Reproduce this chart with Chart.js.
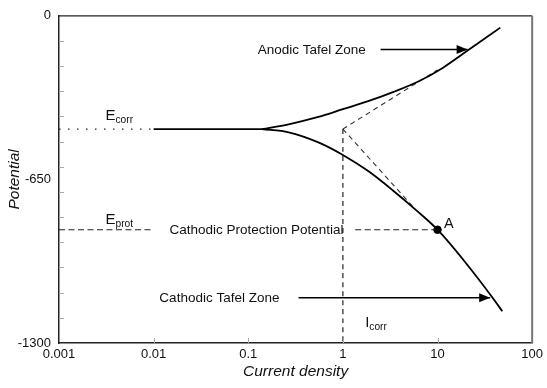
<!DOCTYPE html>
<html>
<head>
<meta charset="utf-8">
<script src="https://cdn.jsdelivr.net/npm/chart.js"></script>
<style>
    html, body { margin: 0; padding: 0; background: #fff; }
    #chart-box { width: 547px; height: 388px; }
</style>
</head>
<body>
<div id="chart-box">
    <canvas id="polarizacion-chart"></canvas>
</div>

<script>
    // Curvas de polarizacion (densidad de corriente, potencial)
    var anodicX = [0.14, 0.267, 0.551, 1.0, 1.85, 3.38, 6.19, 11.34, 20.8, 46.1];
    var anodicE = [-450, -431, -402, -371, -339, -303, -262, -207, -138, -47];
    var cathodicX = [0.14, 0.267, 0.551, 1.0, 1.85, 3.38, 6.19, 10, 20.8, 38.0, 48.4];
    var cathodicE = [-450, -463, -503, -553, -617, -694, -778, -850, -991, -1119, -1174];

    // Potenciales de referencia
    var ecorr = -450;
    var eprot = -850;
    var icorr = 1;
    var pointA = [10, -850];

    // Extrapolaciones de Tafel (rectas discontinuas)
    var anodicTangentX = [1, 10];
    var anodicTangentE = [-450, -215];
    var cathodicTangentX = [1, 5.8];
    var cathodicTangentE = [-450, -768];

    // Flechas de las zonas de Tafel
    var anodicArrowX = [2.5, 20.8];
    var anodicArrowE = -134;
    var cathodicArrowX = [0.34, 36];
    var cathodicArrowE = -1120;

    // Ejes
    var xTicks = [0.001, 0.01, 0.1, 1, 10, 100];
    var xTickLabels = ['0.001', '0.01', '0.1', '1', '10', '100'];
    var yTicks = [-1300, -650, 0];
    var yMinorTicks = [-1200, -1100, -1000, -900, -800, -700, -600, -500, -400, -300, -200, -100];

    // Textos: [texto, subindice, x, potencial, tamano]
    var labels = [
        ['E', 'corr', 0.0031, -414, 15],
        ['E', 'prot', 0.0031, -827, 15],
        ['Cathodic Protection Potential', '', 0.0147, -867, 13.5],
        ['Anodic Tafel Zone', '', 0.126, -150, 13.5],
        ['Cathodic Tafel Zone', '', 0.0115, -1138, 13.5],
        ['I', 'corr', 1.72, -1237, 15],
        ['A', '', 11.7, -843, 14.5]
    ];

    var FONT = '"Liberation Sans", Arial, sans-serif';

    function toPoints(xs, ys) {
        return xs.map(function (x, i) {
            return { x: x, y: Array.isArray(ys) ? ys[i] : ys };
        });
    }

    function lineSet(data, color, width, dash) {
        return {
            data: data,
            showLine: true,
            borderColor: color,
            borderWidth: width,
            borderDash: dash || [],
            pointRadius: 0,
            fill: false,
            cubicInterpolationMode: 'monotone'
        };
    }

    var datasets = [
        lineSet(toPoints(anodicX, anodicE), '#000', 1.8),
        lineSet(toPoints(cathodicX, cathodicE), '#000', 1.8),
        lineSet(toPoints([0.01, anodicX[0]], ecorr), '#000', 1.8),
        lineSet(toPoints([0.001, 0.01], ecorr), '#222', 1.3, [1.5, 7.5]),
        lineSet(toPoints([0.001, 0.01], eprot), '#222', 1.2, [6, 3.5]),
        lineSet(toPoints([1.35, pointA[0]], eprot), '#222', 1.2, [6, 3.5]),
        lineSet(toPoints([icorr, icorr], [ecorr, -1300]), '#222', 1.2, [5, 4]),
        lineSet(toPoints(anodicTangentX, anodicTangentE), '#333', 1.1, [5, 4]),
        lineSet(toPoints(cathodicTangentX, cathodicTangentE), '#333', 1.1, [5, 4]),
        lineSet(toPoints(anodicArrowX, anodicArrowE), '#000', 1.5),
        lineSet(toPoints(cathodicArrowX, cathodicArrowE), '#000', 1.5),
        {
            data: [{ x: pointA[0], y: pointA[1] }],
            pointRadius: 3.8,
            backgroundColor: '#000',
            borderColor: '#000',
            showLine: false
        }
    ];
    var arrowSets = [9, 10];

    // Marcas interiores, bordes, puntas de flecha y textos
    var extrasPlugin = {
        id: 'extras',
        afterDatasetsDraw: function (chart) {
            var ctx = chart.ctx;
            var xs = chart.scales.x;
            var ys = chart.scales.y;
            var area = chart.chartArea;
            ctx.save();

            // marcas menores hacia dentro
            ctx.strokeStyle = '#aaa';
            ctx.lineWidth = 1;
            yMinorTicks.forEach(function (v) {
                var py = Math.round(ys.getPixelForValue(v)) + 0.5;
                ctx.beginPath();
                ctx.moveTo(area.left, py);
                ctx.lineTo(area.left + 5, py);
                ctx.stroke();
            });
            xTicks.slice(1, -1).forEach(function (v) {
                var px = Math.round(xs.getPixelForValue(v)) + 0.5;
                ctx.beginPath();
                ctx.moveTo(px, area.bottom);
                ctx.lineTo(px, area.bottom - 5);
                ctx.stroke();
            });

            // bordes superior y derecho
            ctx.strokeStyle = '#222';
            ctx.lineWidth = 1.3;
            ctx.beginPath();
            ctx.moveTo(area.left, area.top);
            ctx.lineTo(area.right, area.top);
            ctx.stroke();
            ctx.strokeStyle = '#777';
            ctx.lineWidth = 2;
            ctx.beginPath();
            ctx.moveTo(area.right, area.top);
            ctx.lineTo(area.right, area.bottom);
            ctx.stroke();

            // puntas de flecha
            ctx.fillStyle = '#000';
            arrowSets.forEach(function (i) {
                var pts = chart.getDatasetMeta(i).data;
                var tip = pts[pts.length - 1];
                ctx.beginPath();
                ctx.moveTo(tip.x, tip.y);
                ctx.lineTo(tip.x - 11, tip.y - 4.5);
                ctx.lineTo(tip.x - 11, tip.y + 4.5);
                ctx.closePath();
                ctx.fill();
            });

            // textos
            ctx.fillStyle = '#111';
            ctx.textBaseline = 'alphabetic';
            ctx.textAlign = 'left';
            labels.forEach(function (l) {
                var px = xs.getPixelForValue(l[2]);
                var py = ys.getPixelForValue(l[3]);
                ctx.font = l[4] + 'px ' + FONT;
                ctx.fillText(l[0], px, py);
                if (l[1]) {
                    var w = ctx.measureText(l[0]).width;
                    ctx.font = (l[4] * 0.68) + 'px ' + FONT;
                    ctx.fillText(l[1], px + w, py + 3);
                }
            });
            ctx.restore();
        }
    };

    var ctxChart = document.getElementById('polarizacion-chart').getContext('2d');
    var chart = new Chart(ctxChart, {
        type: 'scatter',
        data: { datasets: datasets },
        options: {
            responsive: true,
            maintainAspectRatio: false,
            animation: false,
            layout: { padding: { top: 13, right: 12, left: 0, bottom: 0 } },
            plugins: {
                legend: { display: false },
                tooltip: { enabled: false }
            },
            scales: {
                x: {
                    type: 'logarithmic',
                    min: 0.001,
                    max: 100,
                    afterBuildTicks: function (scale) {
                        scale.ticks = xTicks.map(function (v) { return { value: v }; });
                    },
                    afterFit: function (scale) { scale.height = 45; },
                    grid: { display: false, drawTicks: false },
                    border: { display: true, color: '#222', width: 1.5 },
                    ticks: {
                        autoSkip: false,
                        maxRotation: 0,
                        padding: 4,
                        color: '#111',
                        font: { family: FONT, size: 13 },
                        callback: function (value) {
                            var i = xTicks.indexOf(value);
                            return i >= 0 ? xTickLabels[i] : '';
                        }
                    },
                    title: {
                        display: true,
                        text: 'Current density',
                        color: '#111',
                        padding: { top: 7, bottom: 7 },
                        font: { family: FONT, size: 15.5, style: 'italic' }
                    }
                },
                y: {
                    type: 'linear',
                    min: -1300,
                    max: 0,
                    afterBuildTicks: function (scale) {
                        scale.ticks = yTicks.map(function (v) { return { value: v }; });
                    },
                    afterFit: function (scale) { scale.width = 59; },
                    grid: { display: false, drawTicks: false },
                    border: { display: true, color: '#222', width: 1.5 },
                    ticks: {
                        autoSkip: false,
                        padding: 8,
                        color: '#111',
                        font: { family: FONT, size: 13 },
                        callback: function (value) { return String(value); }
                    },
                    title: {
                        display: true,
                        text: 'Potential',
                        color: '#111',
                        padding: { top: 5, bottom: 5 },
                        font: { family: FONT, size: 15.5, style: 'italic' }
                    }
                }
            }
        },
        plugins: [extrasPlugin]
    });
</script>
</body>
</html>
